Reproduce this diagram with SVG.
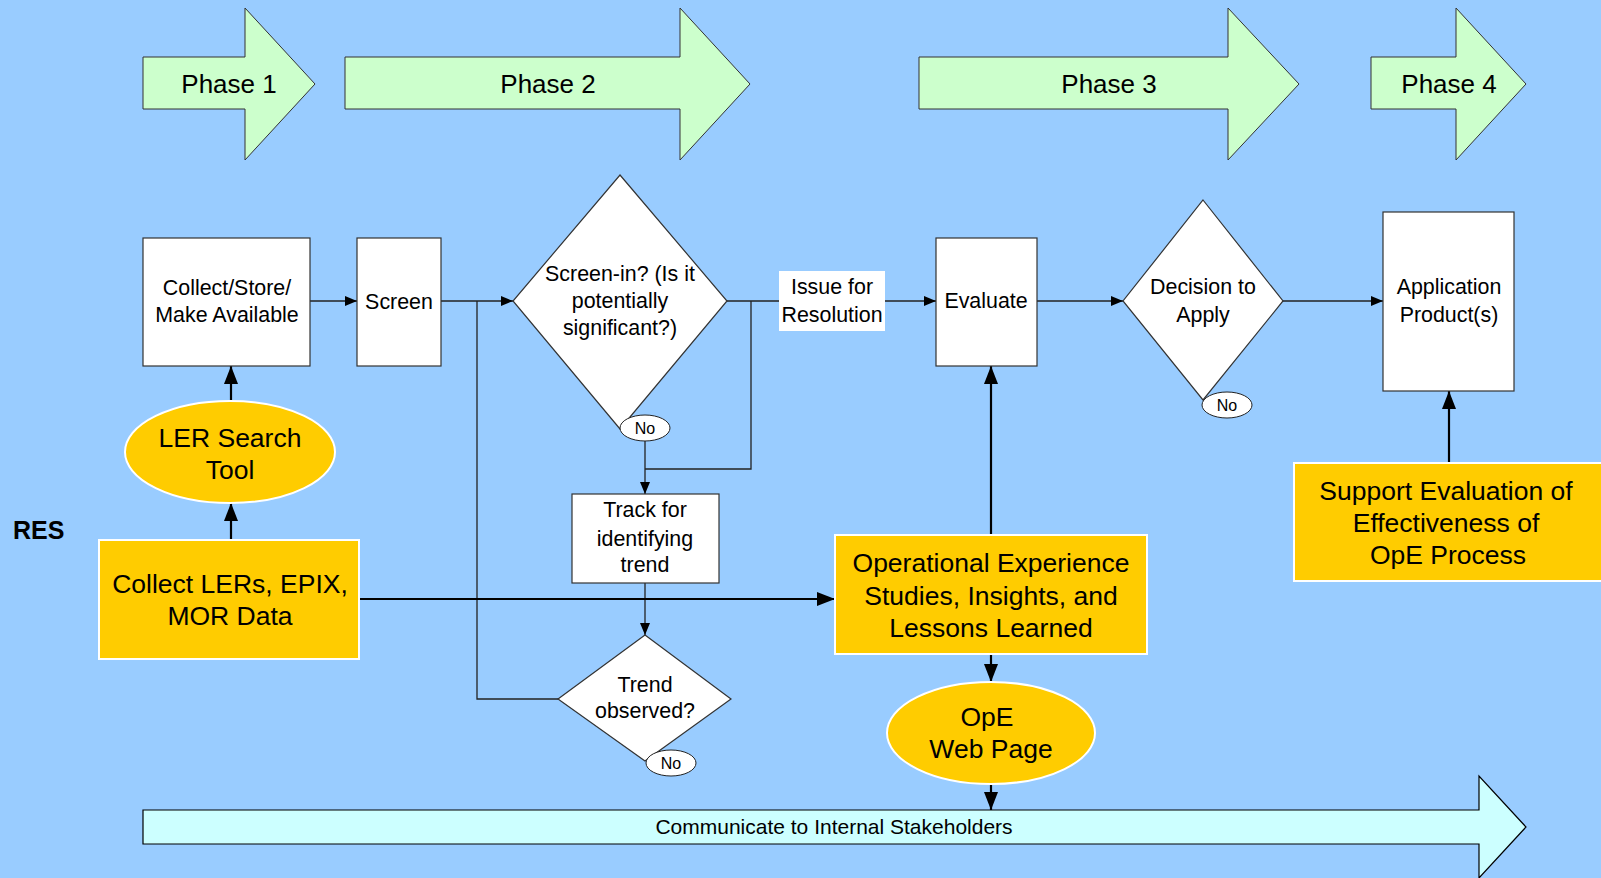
<svg xmlns="http://www.w3.org/2000/svg" width="1601" height="878" viewBox="0 0 1601 878">
<defs>
<marker id="ah" markerWidth="12" markerHeight="10" refX="12" refY="5" orient="auto" markerUnits="userSpaceOnUse"><path d="M0,0 L12,5 L0,10 Z" fill="#000"/></marker>
<marker id="ahb" markerWidth="18" markerHeight="14" refX="18" refY="7" orient="auto" markerUnits="userSpaceOnUse"><path d="M0,0 L18,7 L0,14 Z" fill="#000"/></marker>
</defs>
<style>
.t{font-family:"Liberation Sans",Arial,sans-serif;fill:#000;text-anchor:middle}
.ph{fill:#CCFFCC;stroke:#333;stroke-width:1}
.wb{fill:#fff;stroke:#333;stroke-width:1.2}
.or{fill:#FFCC00;stroke:#fff;stroke-width:2}
.ln{fill:none;stroke:#222;stroke-width:1.3}
.lb{fill:none;stroke:#000;stroke-width:2.2}
.no{fill:#fff;stroke:#222;stroke-width:1}
.ot{font-size:26.5px}
.wt{font-size:21.4px}
</style>
<rect width="1601" height="878" fill="#99CCFF"/>
<g id="phase1"><polygon class="ph" points="143,57 245,57 245,8 315,84 245,160 245,109 143,109"/><text class="t" x="229" y="93" font-size="26">Phase 1</text></g>
<g id="phase2"><polygon class="ph" points="345,57 680,57 680,8 750,84 680,160 680,109 345,109"/><text class="t" x="548" y="93" font-size="26">Phase 2</text></g>
<g id="phase3"><polygon class="ph" points="919,57 1228,57 1228,8 1299,84 1228,160 1228,109 919,109"/><text class="t" x="1109" y="93" font-size="26">Phase 3</text></g>
<g id="phase4"><polygon class="ph" points="1371,57 1456,57 1456,8 1526,84 1456,160 1456,109 1371,109"/><text class="t" x="1449" y="93" font-size="26">Phase 4</text></g>
<g id="connectors">
<line class="ln" x1="310" y1="301" x2="357" y2="301" marker-end="url(#ah)"/>
<line class="ln" x1="441" y1="301" x2="513" y2="301" marker-end="url(#ah)"/>
<polyline class="ln" points="477,301 477,699 558,699"/>
<line class="ln" x1="727" y1="301" x2="936" y2="301" marker-end="url(#ah)"/>
<polyline class="ln" points="751,301 751,469 645,469"/>
<line class="ln" x1="645" y1="441" x2="645" y2="494" marker-end="url(#ah)"/>
<line class="ln" x1="645" y1="583" x2="645" y2="635" marker-end="url(#ah)"/>
<line class="ln" x1="1037" y1="301" x2="1123" y2="301" marker-end="url(#ah)"/>
<line class="ln" x1="1283" y1="301" x2="1383" y2="301" marker-end="url(#ah)"/>
<line class="lb" x1="359" y1="599" x2="835" y2="599" marker-end="url(#ahb)"/>
<line class="lb" x1="991" y1="535" x2="991" y2="366" marker-end="url(#ahb)"/>
<line class="lb" x1="991" y1="654" x2="991" y2="682" marker-end="url(#ahb)"/>
<line class="lb" x1="991" y1="784" x2="991" y2="810" marker-end="url(#ahb)"/>
<line class="lb" x1="1449" y1="463" x2="1449" y2="391" marker-end="url(#ahb)"/>
<line class="lb" x1="231" y1="401" x2="231" y2="366" marker-end="url(#ahb)"/>
<line class="lb" x1="231" y1="540" x2="231" y2="503" marker-end="url(#ahb)"/>
</g>
<g id="collect-store"><rect class="wb" x="143" y="238" width="167" height="128"/><text class="t wt" x="227" y="295">Collect/Store/</text><text class="t wt" x="227" y="322">Make Available</text></g>
<g id="screen"><rect class="wb" x="357" y="238" width="84" height="128"/><text class="t wt" x="399" y="309">Screen</text></g>
<g id="screen-in"><polygon class="wb" points="620,175 727,301 620,429 513,301"/><text class="t wt" x="620" y="281">Screen-in? (Is it</text><text class="t wt" x="620" y="308">potentially</text><text class="t wt" x="620" y="335">significant?)</text></g>
<g id="no1"><ellipse class="no" cx="645" cy="428" rx="25" ry="13"/><text class="t" x="645" y="434" font-size="16">No</text></g>
<g id="issue"><rect x="779" y="271" width="106" height="60" fill="#fff"/><text class="t wt" x="832" y="294">Issue for</text><text class="t wt" x="832" y="322">Resolution</text></g>
<g id="evaluate"><rect class="wb" x="936" y="238" width="101" height="128"/><text class="t wt" x="986" y="308">Evaluate</text></g>
<g id="decision"><polygon class="wb" points="1203,200 1283,301 1203,400 1123,301"/><text class="t wt" x="1203" y="294">Decision to</text><text class="t wt" x="1203" y="322">Apply</text></g>
<g id="no2"><ellipse class="no" cx="1227" cy="405" rx="25" ry="13"/><text class="t" x="1227" y="411" font-size="16">No</text></g>
<g id="application"><rect class="wb" x="1383" y="212" width="131" height="179"/><text class="t wt" x="1449" y="294">Application</text><text class="t wt" x="1449" y="322">Product(s)</text></g>
<g id="support"><rect class="or" x="1294" y="463" width="312" height="118"/><text class="t ot" x="1446" y="500">Support Evaluation of</text><text class="t ot" x="1446" y="532">Effectiveness of</text><text class="t ot" x="1448" y="564">OpE Process</text></g>
<g id="ler-search"><ellipse class="or" cx="230" cy="452" rx="105" ry="51"/><text class="t ot" x="230" y="447">LER Search</text><text class="t ot" x="230" y="479">Tool</text></g>
<g id="collect-lers"><rect class="or" x="99" y="540" width="260" height="119"/><text class="t ot" x="230" y="593">Collect LERs, EPIX,</text><text class="t ot" x="230" y="625">MOR Data</text></g>
<g id="res"><text x="13" y="539" font-size="25" font-weight="bold" font-family="Liberation Sans,Arial,sans-serif">RES</text></g>
<g id="track"><rect class="wb" x="572" y="494" width="147" height="89"/><text class="t wt" x="645" y="517">Track for</text><text class="t wt" x="645" y="546">identifying</text><text class="t wt" x="645" y="572">trend</text></g>
<g id="trend"><polygon class="wb" points="645,635 731,699 645,761 558,699"/><text class="t wt" x="645" y="692">Trend</text><text class="t wt" x="645" y="718">observed?</text></g>
<g id="no3"><ellipse class="no" cx="671" cy="763" rx="25" ry="13"/><text class="t" x="671" y="769" font-size="16">No</text></g>
<g id="ope-studies"><rect class="or" x="835" y="535" width="312" height="119"/><text class="t ot" x="991" y="572">Operational Experience</text><text class="t ot" x="991" y="605">Studies, Insights, and</text><text class="t ot" x="991" y="637">Lessons Learned</text></g>
<g id="ope-web"><ellipse class="or" cx="991" cy="733" rx="104" ry="51"/><text class="t ot" x="987" y="726">OpE</text><text class="t ot" x="991" y="758">Web Page</text></g>
<g id="communicate"><polygon points="143,810 1479,810 1479,776 1526,827 1479,878 1479,844 143,844" fill="#CCFFFF" stroke="#000" stroke-width="1.2"/><text class="t" x="834" y="834" font-size="21">Communicate to Internal Stakeholders</text></g>
</svg>
